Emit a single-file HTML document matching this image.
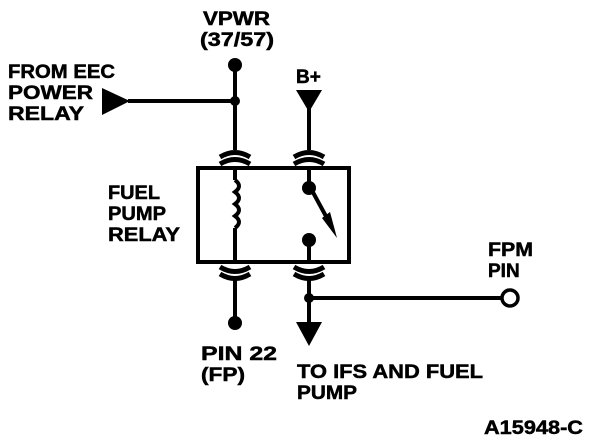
<!DOCTYPE html>
<html><head><style>
html,body{margin:0;padding:0;background:#fff;}
svg{display:block;}
text{font-family:"Liberation Sans",Arial,sans-serif;font-weight:bold;font-size:19px;fill:#000;stroke:#000;stroke-width:0.5;}
</style></head><body>
<svg width="608" height="442" viewBox="0 0 608 442" xmlns="http://www.w3.org/2000/svg">
<g stroke="#000" stroke-width="4" fill="none">
  <line x1="235" y1="64" x2="235" y2="150"/>
  <line x1="128" y1="101" x2="235" y2="101"/>
  <line x1="235" y1="278" x2="235" y2="322"/>
  <line x1="309" y1="100" x2="309" y2="150"/>
  <line x1="309" y1="278" x2="309" y2="325"/>
  <line x1="309" y1="298" x2="501" y2="298"/>
  <rect x="198" y="168" width="151" height="94"/>
  <line x1="235" y1="168" x2="235" y2="180"/>
  <path d="M235 180 q8 6 0 12 q8 6 0 12 q8 6 0 12 q8 6 0 12" />
  <line x1="235" y1="228" x2="235" y2="262"/>
  <line x1="309" y1="168" x2="309" y2="185"/>
  <line x1="309" y1="185" x2="328" y2="220"/>
  <line x1="309" y1="240" x2="309" y2="262"/>
  <circle cx="510" cy="298" r="8" stroke-width="3.5"/>
  <g stroke-width="5">
  <path d="M220 157 q15 -9 30 0 M220 164 q15 -9 30 0"/>
  <path d="M294 157 q15 -9 30 0 M294 164 q15 -9 30 0"/>
  <path d="M220 267 q15 9 30 0 M220 274 q15 9 30 0"/>
  <path d="M294 267 q15 9 30 0 M294 274 q15 9 30 0"/>
  </g>
</g>
<g fill="#000">
  <circle cx="235" cy="65" r="7"/>
  <circle cx="235" cy="101" r="5"/>
  <circle cx="235" cy="323" r="7"/>
  <circle cx="309" cy="188" r="7"/>
  <circle cx="309" cy="240" r="7"/>
  <circle cx="309" cy="298" r="5"/>
  <polygon points="322,218 337,238 330,212"/>
  <polygon points="102,88 102,115 130,101"/>
  <polygon points="296,90 322,90 309,112"/>
  <polygon points="296,322 322,322 309,346"/>
</g>
<text x="203" y="25" textLength="67" lengthAdjust="spacingAndGlyphs">VPWR</text>
<text x="200" y="46" textLength="74" lengthAdjust="spacingAndGlyphs">(37/57)</text>
<text x="8" y="78" textLength="107" lengthAdjust="spacingAndGlyphs">FROM EEC</text>
<text x="8" y="99" textLength="85" lengthAdjust="spacingAndGlyphs">POWER</text>
<text x="8" y="120" textLength="76" lengthAdjust="spacingAndGlyphs">RELAY</text>
<text x="296" y="83">B+</text>
<text x="108" y="199" textLength="52" lengthAdjust="spacingAndGlyphs">FUEL</text>
<text x="108" y="220" textLength="58" lengthAdjust="spacingAndGlyphs">PUMP</text>
<text x="108" y="241" textLength="72" lengthAdjust="spacingAndGlyphs">RELAY</text>
<text x="488" y="256" textLength="45" lengthAdjust="spacingAndGlyphs">FPM</text>
<text x="488" y="277">PIN</text>
<text x="201" y="360" textLength="76" lengthAdjust="spacingAndGlyphs">PIN 22</text>
<text x="201" y="381" textLength="44" lengthAdjust="spacingAndGlyphs">(FP)</text>
<text x="297" y="378" textLength="186" lengthAdjust="spacingAndGlyphs">TO IFS AND FUEL</text>
<text x="297" y="399" textLength="60" lengthAdjust="spacingAndGlyphs">PUMP</text>
<text x="484" y="434" textLength="99" lengthAdjust="spacingAndGlyphs">A15948-C</text>
</svg>
</body></html>
